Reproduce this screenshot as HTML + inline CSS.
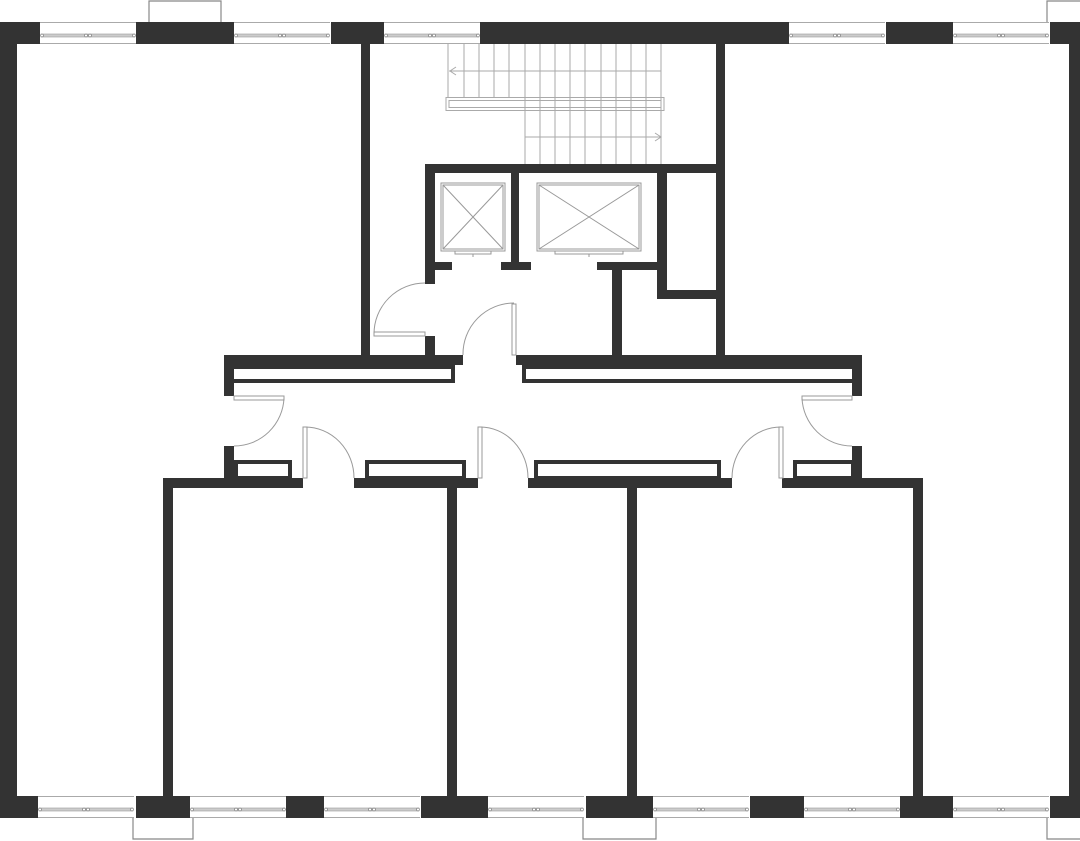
<!DOCTYPE html>
<html><head><meta charset="utf-8"><style>html,body{margin:0;padding:0;background:#fff}svg{display:block}</style></head>
<body>
<svg width="1080" height="841" viewBox="0 0 1080 841" xmlns="http://www.w3.org/2000/svg">
<defs>
<g id="win">
 <rect x="0" y="0" width="96" height="22" fill="#fff"/>
 <line x1="0" y1="0.5" x2="96" y2="0.5" stroke="#aaa" stroke-width="1"/>
 <line x1="0" y1="21.5" x2="96" y2="21.5" stroke="#aaa" stroke-width="1"/>
 <rect x="1" y="12" width="94" height="3" fill="#ccc" stroke="#999" stroke-width="0.6"/>
 <circle cx="2" cy="13.5" r="1.4" fill="#fff" stroke="#777" stroke-width="0.6"/>
 <circle cx="46" cy="13.5" r="1.4" fill="#fff" stroke="#777" stroke-width="0.6"/>
 <circle cx="50" cy="13.5" r="1.4" fill="#fff" stroke="#777" stroke-width="0.6"/>
 <circle cx="94" cy="13.5" r="1.4" fill="#fff" stroke="#777" stroke-width="0.6"/>
</g>
</defs>
<g fill="#333">
<!-- outer walls -->
<rect x="0" y="22" width="17" height="796"/>
<rect x="1069" y="22" width="11" height="796"/>
<!-- top wall pieces -->
<rect x="0" y="22" width="40" height="22"/>
<rect x="136" y="22" width="98" height="22"/>
<rect x="331" y="22" width="53" height="22"/>
<rect x="480" y="22" width="309" height="22"/>
<rect x="886" y="22" width="67" height="22"/>
<rect x="1050" y="22" width="30" height="22"/>
<!-- bottom wall pieces -->
<rect x="0" y="796" width="38" height="22"/>
<rect x="136" y="796" width="54" height="22"/>
<rect x="286" y="796" width="38" height="22"/>
<rect x="421" y="796" width="67" height="22"/>
<rect x="586" y="796" width="67" height="22"/>
<rect x="750" y="796" width="54" height="22"/>
<rect x="900" y="796" width="53" height="22"/>
<rect x="1050" y="796" width="30" height="22"/>
<!-- interior verticals -->
<rect x="361" y="44" width="9" height="318"/>
<rect x="716" y="44" width="9" height="318"/>
<!-- elevator block -->
<rect x="425" y="164" width="300" height="9"/>
<rect x="425" y="164" width="10" height="120"/>
<rect x="425" y="336" width="10" height="26"/>
<rect x="435" y="262" width="17" height="8"/>
<rect x="511" y="172" width="8" height="98"/>
<rect x="501" y="262" width="30" height="8"/>
<rect x="597" y="262" width="63" height="8"/>
<rect x="612" y="270" width="10" height="88"/>
<rect x="657" y="172" width="10" height="126"/>
<rect x="657" y="290" width="62" height="9"/>
<!-- corridor upper wall -->
<rect x="224" y="355" width="239" height="10"/>
<rect x="516" y="355" width="346" height="10"/>
<rect x="224" y="355" width="10" height="41"/>
<rect x="224" y="446" width="10" height="42"/>
<rect x="852" y="355" width="10" height="41"/>
<rect x="852" y="446" width="10" height="42"/>
<!-- corridor lower wall -->
<rect x="163" y="478" width="140" height="10"/>
<rect x="354" y="478" width="124" height="10"/>
<rect x="528" y="478" width="204" height="10"/>
<rect x="782" y="478" width="141" height="10"/>
<rect x="163" y="478" width="10" height="340"/>
<rect x="447" y="478" width="10" height="318"/>
<rect x="627" y="478" width="10" height="318"/>
<rect x="913" y="478" width="10" height="340"/>
</g>
<!-- shelves -->
<g fill="none" stroke="#333" stroke-width="4">
<path d="M234 367 H453 V381 H234"/>
<path d="M854 367 H524 V381 H854"/>
<rect x="236" y="462" width="54" height="16"/>
<rect x="367" y="462" width="97" height="16"/>
<rect x="536" y="462" width="183" height="16"/>
<rect x="795" y="462" width="58" height="16"/>
</g>
<!-- windows -->
<use href="#win" x="40" y="22"/>
<use href="#win" x="234" y="22" transform="translate(0,0)"/>
<use href="#win" x="384" y="22"/>
<use href="#win" x="789" y="22"/>
<use href="#win" x="953" y="22"/>
<use href="#win" x="38" y="796"/>
<use href="#win" x="190" y="796"/>
<use href="#win" x="324" y="796"/>
<use href="#win" x="488" y="796"/>
<use href="#win" x="653" y="796"/>
<use href="#win" x="804" y="796"/>
<use href="#win" x="953" y="796"/>
<!-- balconies -->
<g fill="none" stroke="#888" stroke-width="1.2">
<path d="M149 22 V1 H221 V22"/>
<path d="M1047 22 V1 H1080"/>
<path d="M133 818 V839 H193 V818"/>
<path d="M583 818 V839 H656 V818"/>
<path d="M1047 818 V839 H1080"/>
</g>
<!-- stairs -->
<g stroke="#aaa" stroke-width="1" fill="none">
<path d="M448 44V97M464 44V97M479 44V97M494 44V97M509 44V97M525 44V164M540 44V164M555 44V164M570 44V164M585 44V164M601 44V164M616 44V164M631 44V164M646 44V164M661 44V164"/>
<line x1="449" y1="71" x2="661" y2="71"/>
<path d="M456 67 L450 71 L456 75"/>
<line x1="525" y1="137" x2="661" y2="137"/>
<path d="M655 133 L661 137 L655 141"/>
<rect x="446" y="97.5" width="218" height="13"/>
<rect x="449" y="100.5" width="212" height="7"/>
</g>
<!-- elevators -->
<g stroke="#999" stroke-width="1" fill="none">
<rect x="441" y="183" width="64" height="68"/><rect x="443" y="185" width="60" height="64"/>
<path d="M443 185 L503 249 M503 185 L443 249"/>
<path d="M455 251 V254 H491 V251 M473 254V257"/>
<rect x="537" y="183" width="104" height="68"/><rect x="539" y="185" width="100" height="64"/>
<path d="M539 185 L639 249 M639 185 L539 249"/>
<path d="M555 251 V254 H623 V251 M589 254V257"/>
</g>
<!-- doors -->
<g stroke="#999" stroke-width="1" fill="none">
<rect x="374" y="332" width="51" height="4"/>
<path d="M374 334 A51 51 0 0 1 425 283"/>
<rect x="512" y="304" width="4" height="51"/>
<path d="M514 303 A51 51 0 0 0 463 355"/>
<rect x="234" y="396" width="50" height="4"/>
<path d="M284 398 A50 50 0 0 1 234 446"/>
<rect x="802" y="396" width="50" height="4"/>
<path d="M802 398 A50 50 0 0 0 852 446"/>
<rect x="303" y="427" width="4" height="51"/>
<path d="M305 427 A49 51 0 0 1 354 478"/>
<rect x="478" y="427" width="4" height="51"/>
<path d="M480 427 A48 51 0 0 1 528 478"/>
<rect x="779" y="427" width="4" height="51"/>
<path d="M781 427 A49 51 0 0 0 732 478"/>
</g>
</svg>
</body></html>
